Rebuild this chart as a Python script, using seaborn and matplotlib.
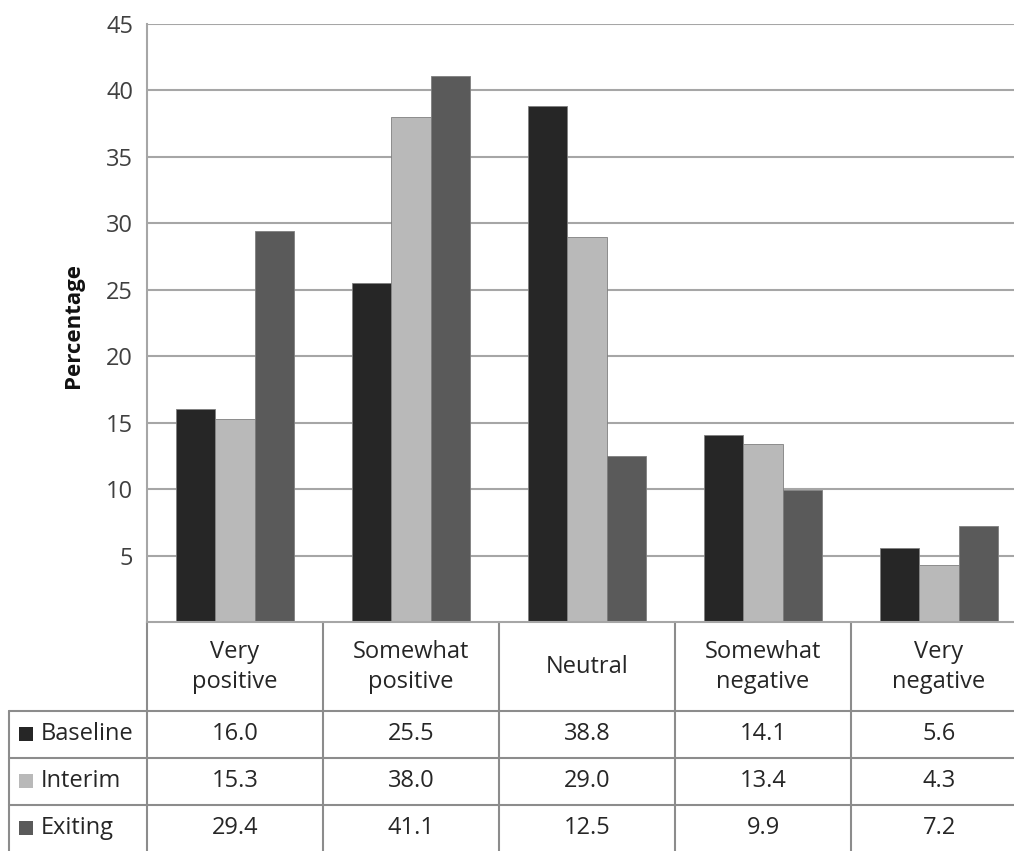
import matplotlib
matplotlib.use("Agg")
import matplotlib.pyplot as plt
from matplotlib.lines import Line2D
from matplotlib.patches import Rectangle
from matplotlib.transforms import blended_transform_factory
import seaborn as sns
import pandas as pd

categories = ["Very\npositive", "Somewhat\npositive", "Neutral", "Somewhat\nnegative", "Very\nnegative"]
series_names = ["Baseline", "Interim", "Exiting"]
baseline = [16.0, 25.5, 38.8, 14.1, 5.6]
interim = [15.3, 38.0, 29.0, 13.4, 4.3]
exiting = [29.4, 41.1, 12.5, 9.9, 7.2]
y_ticks = [5, 10, 15, 20, 25, 30, 35, 40, 45]
colors = ["#262626", "#b9b9b9", "#5a5a5a"]

series_values = [baseline, interim, exiting]
rows = []
for name, vals in zip(series_names, series_values):
    for c, v in zip(categories, vals):
        rows.append({"Category": c, "Series": name, "Value": v})
df = pd.DataFrame(rows)

sns.set_theme(style="white")
plt.rcParams['font.family'] = ['Open Sans', 'DejaVu Sans']

W, H = 1014, 851
fig = plt.figure(figsize=(W / 100, H / 100), dpi=100)

def fx(px):
    return px / W

def fy(py):
    return 1 - py / H

ax_left, ax_right, ax_top, ax_bottom = 147, 1027, 24, 622
ax = fig.add_axes([fx(ax_left), fy(ax_bottom), fx(ax_right - ax_left), (ax_bottom - ax_top) / H])

sns.barplot(data=df, x="Category", y="Value", hue="Series", order=categories,
            hue_order=series_names, palette=colors, width=0.665, gap=0,
            edgecolor="#7f7f7f", linewidth=0.6, ax=ax, legend=False, saturation=1)

grid_c = "#a6a6a6"
fs = 17
ax.set_xlim(-0.5, len(categories) - 0.5)
ax.set_ylim(0, 45)
ax.set_yticks(y_ticks)
ax.set_yticklabels([str(t) for t in y_ticks], fontsize=fs, color="#404040")
ax.tick_params(axis="y", length=0, pad=10)
ax.set_xticks([])
ax.set_xlabel("")
ax.set_ylabel("")
ax.yaxis.grid(True, color=grid_c, linewidth=1.5)
ax.set_axisbelow(True)
for s in ["top", "right"]:
    ax.spines[s].set_visible(False)
ax.spines["left"].set_color(grid_c)
ax.spines["left"].set_linewidth(1.5)
ax.spines["bottom"].set_color(grid_c)
ax.spines["bottom"].set_linewidth(1.5)

fig.text(fx(73), fy(326), "Percentage", rotation=90, ha="center", va="center",
         fontsize=16, fontweight="bold", color="#111111")

# Data table below the axes
line_c = "#8c8c8c"
bt = blended_transform_factory(ax.transData, fig.transFigure)
row_lines = [711, 758, 805]
table_left = 9
for ry in row_lines:
    fig.add_artist(Line2D([fx(table_left), fx(ax_right)], [fy(ry), fy(ry)],
                          color=line_c, linewidth=1.5, transform=fig.transFigure))
# vertical lines at category boundaries
for i in range(len(categories) + 1):
    xb = i - 0.5
    ax.add_artist(Line2D([xb, xb], [fy(ax_bottom), fy(H + 2)], color=line_c,
                         linewidth=1.5, transform=bt, clip_on=False))
fig.add_artist(Line2D([fx(table_left), fx(table_left)], [fy(711), fy(H + 2)],
                      color=line_c, linewidth=1.5, transform=fig.transFigure))

txt_c = "#262626"
for i, c in enumerate(categories):
    ax.text(i, fy(667), c, transform=bt, ha="center", va="center", fontsize=fs,
            color=txt_c, linespacing=1.35, clip_on=False)

row_centers = [734, 781, 828]
for r, (name, vals, col) in enumerate(zip(series_names, series_values, colors)):
    yc = row_centers[r]
    for i, v in enumerate(vals):
        ax.text(i, fy(yc), f"{v:.1f}", transform=bt, ha="center", va="center",
                fontsize=fs, color=txt_c, clip_on=False)
    fig.add_artist(Rectangle((fx(19), fy(yc + 7)), fx(14), 14 / H, facecolor=col,
                             edgecolor="none", transform=fig.transFigure))
    fig.text(fx(41), fy(yc), name, ha="left", va="center", fontsize=fs, color=txt_c)

fig.savefig("out.png", dpi=100)
